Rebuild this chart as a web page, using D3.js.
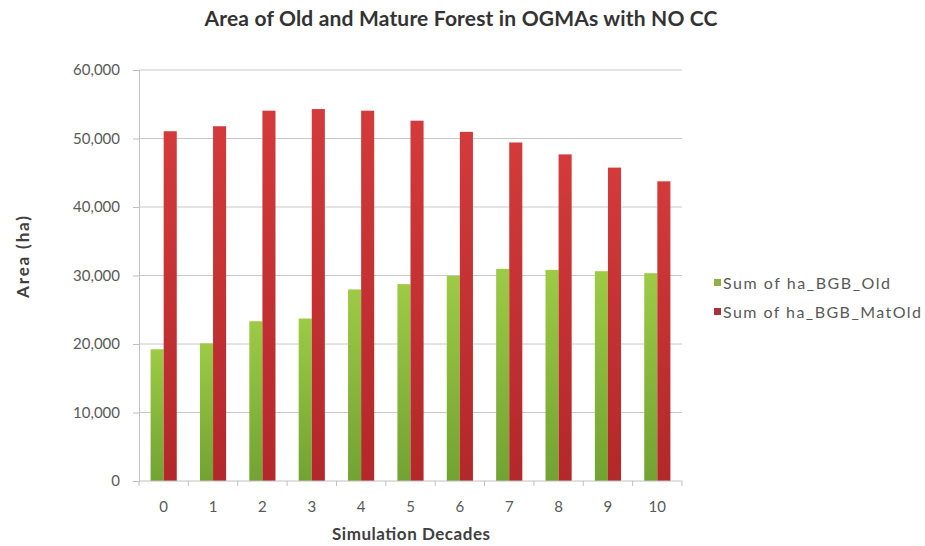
<!DOCTYPE html>
<html>
<head>
<meta charset="utf-8">
<script src="https://cdn.jsdelivr.net/npm/d3@7"></script>
<style>
  body { margin: 0; background: #fff; }
  text { font-family: Lato, "Open Sans", sans-serif; }
</style>
</head>
<body>
<div id="chart"></div>
<script>
// chart data
var decades = ["0", "1", "2", "3", "4", "5", "6", "7", "8", "9", "10"];
var seriesNames = ["Sum of ha_BGB_Old", "Sum of ha_BGB_MatOld"];
var oldValues = [19230, 20100, 23330, 23720, 27970, 28740, 29950, 30970, 30820, 30630, 30340];
var matOldValues = [51060, 51790, 54060, 54300, 54060, 52600, 50970, 49420, 47680, 45750, 43750];
var yTicks = [0, 10000, 20000, 30000, 40000, 50000, 60000];

var W = 925, H = 546;
var margin = { top: 70, right: 243, bottom: 65, left: 139 };
var width = W - margin.left - margin.right;
var height = H - margin.top - margin.bottom;

var svg = d3.select("#chart").append("svg")
    .attr("width", W)
    .attr("height", H);

var defs = svg.append("defs");
function grad(id, top, bottom) {
  var g = defs.append("linearGradient").attr("id", id)
      .attr("x1", 0).attr("y1", 0).attr("x2", 0).attr("y2", 1);
  g.append("stop").attr("offset", "0%").attr("stop-color", top);
  g.append("stop").attr("offset", "100%").attr("stop-color", bottom);
}
grad("gOld", "#9dcb45", "#72a232");
grad("gMat", "#d33a3b", "#b3282a");
var fills = ["url(#gOld)", "url(#gMat)"];
var legendColors = ["#8fb04a", "#a8323a"];
var legendWidths = [167, 198];

var g = svg.append("g")
    .attr("transform", "translate(" + margin.left + "," + margin.top + ")");

var x = d3.scaleBand()
    .domain(decades)
    .range([0, width])
    .paddingInner(0.47)
    .paddingOuter(0.235);

var x1 = d3.scaleBand()
    .domain([0, 1])
    .range([0, x.bandwidth()]);

var y = d3.scaleLinear()
    .domain([0, 60000])
    .range([height, 0]);

// gridlines
g.append("g").selectAll("line")
    .data(yTicks.slice(1))
    .enter().append("line")
    .attr("x1", 0).attr("x2", width)
    .attr("y1", function(d) { return y(d); })
    .attr("y2", function(d) { return y(d); })
    .attr("stroke", "#c8c8c8")
    .attr("stroke-width", 1);

// y axis
var yAxis = g.append("g")
    .call(d3.axisLeft(y).tickValues(yTicks).tickSize(6).tickPadding(13)
      .tickFormat(d3.format(",")));
yAxis.select(".domain").attr("stroke", "#c0c0c0");
yAxis.selectAll(".tick line").attr("stroke", "#c0c0c0");
yAxis.selectAll("text")
    .attr("fill", "#595959")
    .style("font-size", "15px");

// bars
var groups = g.append("g").selectAll("g")
    .data(decades)
    .enter().append("g")
    .attr("transform", function(d) { return "translate(" + x(d) + ",0)"; });

groups.selectAll("rect")
    .data(function(d, i) { return [oldValues[i], matOldValues[i]]; })
    .enter().append("rect")
    .attr("x", function(d, j) { return x1(j); })
    .attr("width", x1.bandwidth())
    .attr("y", function(d) { return y(d); })
    .attr("height", function(d) { return height - y(d); })
    .attr("fill", function(d, j) { return fills[j]; });

// x axis, ticks between categories
var xAxis = g.append("g")
    .attr("transform", "translate(0," + height + ")");
xAxis.append("line")
    .attr("x1", 0).attr("x2", width)
    .attr("stroke", "#c0c0c0");
var step = x.step();
xAxis.selectAll(".bnd")
    .data(d3.range(decades.length + 1))
    .enter().append("line")
    .attr("class", "bnd")
    .attr("x1", function(i) { return i * step; })
    .attr("x2", function(i) { return i * step; })
    .attr("y1", 0).attr("y2", 5)
    .attr("stroke", "#c0c0c0");
xAxis.selectAll(".lbl")
    .data(decades)
    .enter().append("text")
    .attr("class", "lbl")
    .attr("x", function(d) { return x(d) + x.bandwidth() / 2; })
    .attr("y", 31)
    .attr("text-anchor", "middle")
    .attr("fill", "#595959")
    .style("font-size", "15px")
    .text(function(d) { return d; });

// titles
svg.append("text")
    .attr("x", 461).attr("y", 26)
    .attr("text-anchor", "middle")
    .attr("textLength", 513)
    .attr("lengthAdjust", "spacing")
    .style("font-size", "21px")
    .style("font-weight", "bold")
    .attr("fill", "#333")
    .text("Area of Old and Mature Forest in OGMAs with NO CC");

svg.append("text")
    .attr("x", 411).attr("y", 540)
    .attr("text-anchor", "middle")
    .attr("textLength", 158)
    .attr("lengthAdjust", "spacing")
    .style("font-size", "17px")
    .style("font-weight", "bold")
    .attr("fill", "#404040")
    .text("Simulation Decades");

svg.append("text")
    .attr("transform", "translate(29,257) rotate(-90)")
    .attr("text-anchor", "middle")
    .attr("textLength", 82)
    .attr("lengthAdjust", "spacing")
    .style("font-size", "17px")
    .style("font-weight", "bold")
    .attr("fill", "#404040")
    .text("Area (ha)");

// legend
var legend = svg.append("g")
    .attr("transform", "translate(714,279)")
    .selectAll("g")
    .data(seriesNames)
    .enter().append("g")
    .attr("transform", function(d, i) { return "translate(0," + i * 29 + ")"; });

legend.append("rect")
    .attr("width", 7).attr("height", 7)
    .attr("fill", function(d, i) { return legendColors[i]; });

legend.append("text")
    .attr("x", 9).attr("y", 4)
    .attr("dy", ".35em")
    .attr("textLength", function(d, i) { return legendWidths[i]; })
    .attr("lengthAdjust", "spacing")
    .attr("fill", "#595959")
    .style("font-size", "16px")
    .text(function(d) { return d; });
</script>
</body>
</html>
